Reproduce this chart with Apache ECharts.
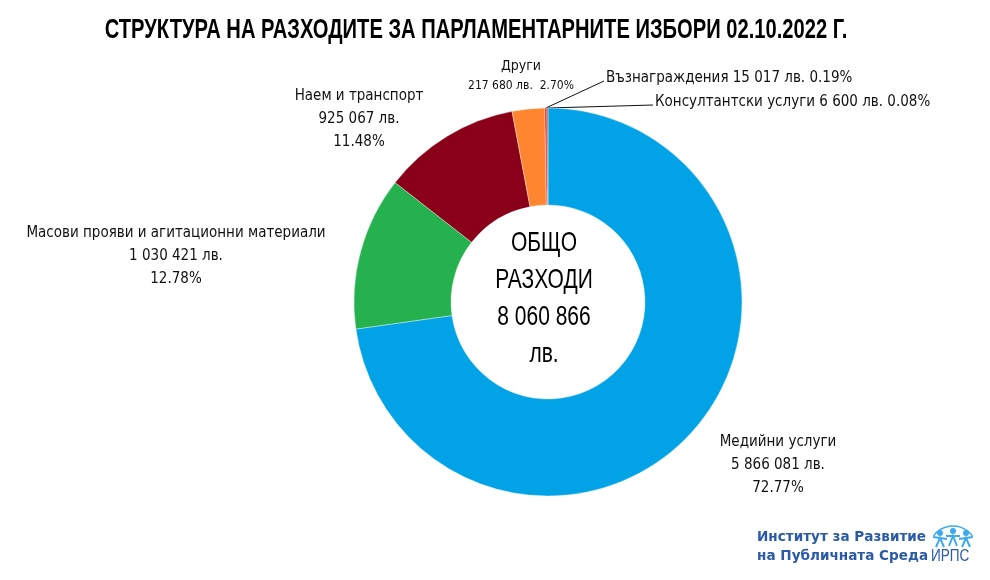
<!DOCTYPE html>
<html>
<head>
<meta charset="utf-8">
<script src="https://cdn.jsdelivr.net/npm/echarts@6/dist/echarts.min.js"></script>
<style>
html,body{margin:0;padding:0;background:#fff;}
#chart{width:990px;height:580px;}
</style>
</head>
<body>
<div id="chart"></div>
<script>
// ---- data ----
const categories = [
  'Медийни услуги',
  'Масови прояви и агитационни материали',
  'Наем и транспорт',
  'Други',
  'Възнаграждения',
  'Консултантски услуги'
];
const amounts = [5866081, 1030421, 925067, 217680, 15017, 6600];
const colors = ['#02a3e6', '#26b14f', '#8a0019', '#ff8530', '#e2362c', '#c0392b'];
const titleText = 'СТРУКТУРА НА РАЗХОДИТЕ ЗА ПАРЛАМЕНТАРНИТЕ ИЗБОРИ 02.10.2022 Г.';
const centerLines = ['ОБЩО', 'РАЗХОДИ'];
const currency = 'лв.';

// ---- helpers ----
function fmt(n) { return String(n).replace(/\B(?=(\d{3})+(?!\d))/g, ' '); }
const total = amounts.reduce((a, b) => a + b, 0);

// label placement (layout only)
const labelPlace = [
  { x: 778, y: 465, align: 'center', style: 'three' },
  { x: 176, y: 256, align: 'center', style: 'three' },
  { x: 359, y: 119, align: 'center', style: 'three' },
  { x: 521, y: 76,  align: 'center', style: 'two' },
  { x: 606, y: 78,  align: 'left',   style: 'one', line: true },
  { x: 655, y: 102, align: 'left',   style: 'one', line: true }
];

const seriesData = categories.map((name, i) => ({
  name: name,
  value: amounts[i],
  itemStyle: { color: colors[i] },
  labelLine: { show: !!labelPlace[i].line, lineStyle: { color: '#111', width: 1 } }
}));

const LABEL_FONT = '"DejaVu Sans Condensed", sans-serif';

const chart = echarts.init(document.getElementById('chart'), null, { renderer: 'canvas' });
chart.setOption({
  backgroundColor: '#ffffff',
  animation: false,
  series: [{
    type: 'pie',
    center: [548, 302],
    radius: [97, 194],
    startAngle: 90,
    clockwise: true,
    avoidLabelOverlap: false,
    itemStyle: { borderColor: 'rgba(255,255,255,0.6)', borderWidth: 0.6 },
    label: {
      show: true,
      position: 'outside',
      color: '#111',
      fontFamily: LABEL_FONT,
      fontSize: 15,
      lineHeight: 23,
      formatter: function (p) {
        const pl = labelPlace[p.dataIndex];
        const pct = p.percent.toFixed(2) + '%';
        const val = fmt(p.value) + ' ' + currency;
        if (pl.style === 'three') return p.name + '\n' + val + '\n' + pct;
        if (pl.style === 'two') return '{a|' + p.name + '}\n{b|' + val + '  ' + pct + '}';
        return p.name + ' ' + val + ' ' + pct;
      },
      rich: {
        a: { fontFamily: LABEL_FONT, fontSize: 14, lineHeight: 19, color: '#111' },
        b: { fontFamily: LABEL_FONT, fontSize: 12, lineHeight: 19, color: '#111' }
      }
    },
    labelLine: { show: false, length: 10, length2: 10 },
    labelLayout: function (params) {
      const pl = labelPlace[params.dataIndex];
      const res = { x: pl.x, y: pl.y, align: pl.align, verticalAlign: 'middle' };
      if (pl.line && params.labelLinePoints) {
        const s = params.labelLinePoints[0];
        const ex = pl.x - 2, ey = pl.y + 3;
        res.labelLinePoints = [[s[0], s[1]], [ex, ey], [ex, ey]];
      }
      return res;
    },
    data: seriesData
  }],
  graphic: [
    {
      type: 'text',
      x: 476, y: 30,
      scaleX: 0.72,
      style: {
        x: 0, y: 0,
        text: titleText,
        font: 'bold 28px "Liberation Sans", sans-serif',
        fill: '#000',
        textAlign: 'center',
        textVerticalAlign: 'middle'
      }
    },
    {
      type: 'text',
      x: 544, y: 299,
      scaleX: 0.75,
      style: {
        x: 0, y: 0,
        text: centerLines.concat([fmt(total), currency]).join('\n'),
        font: '28px "Liberation Sans", sans-serif',
        fill: '#000',
        textAlign: 'center',
        textVerticalAlign: 'middle',
        lineHeight: 37
      }
    },
    {
      type: 'group',
      children: [
        { type: 'text', x: 757, y: 537, scaleX: 0.97, style: { x: 0, y: 0, text: 'Институт за Развитие', font: 'bold 14px "DejaVu Sans", sans-serif', fill: '#2a5aa8', textVerticalAlign: 'middle' } },
        { type: 'text', x: 757, y: 556, scaleX: 0.97, style: { x: 0, y: 0, text: 'на Публичната Среда', font: 'bold 14px "DejaVu Sans", sans-serif', fill: '#2a5aa8', textVerticalAlign: 'middle' } },
        { type: 'text', x: 931, y: 557, scaleX: 0.85, style: { x: 0, y: 0, text: 'ИРПС', font: '16px "Liberation Sans", sans-serif', fill: '#2a5aa8', textVerticalAlign: 'middle' } },
        { type: 'arc', shape: { cx: 953, cy: 550, r: 24, startAngle: Math.PI * 1.2, endAngle: Math.PI * 1.8 }, style: { stroke: '#3da9ee', lineWidth: 1.5, fill: null } },
        { type: 'circle', shape: { cx: 940, cy: 533, r: 3 }, style: { fill: '#3da9ee' } },
        { type: 'circle', shape: { cx: 953, cy: 531, r: 3 }, style: { fill: '#3da9ee' } },
        { type: 'circle', shape: { cx: 966, cy: 533, r: 3 }, style: { fill: '#3da9ee' } },
        { type: 'polyline', shape: { points: [[933, 537], [947, 539]] }, style: { stroke: '#3da9ee', lineWidth: 2 } },
        { type: 'polyline', shape: { points: [[946, 536], [960, 536]] }, style: { stroke: '#3da9ee', lineWidth: 2 } },
        { type: 'polyline', shape: { points: [[959, 539], [973, 537]] }, style: { stroke: '#3da9ee', lineWidth: 2 } },
        { type: 'polyline', shape: { points: [[936, 547], [940, 538], [944, 547]] }, style: { stroke: '#3da9ee', lineWidth: 2, fill: null } },
        { type: 'polyline', shape: { points: [[949, 546], [953, 536], [957, 546]] }, style: { stroke: '#3da9ee', lineWidth: 2, fill: null } },
        { type: 'polyline', shape: { points: [[962, 547], [966, 538], [970, 547]] }, style: { stroke: '#3da9ee', lineWidth: 2, fill: null } }
      ]
    }
  ]
});
</script>
</body>
</html>
